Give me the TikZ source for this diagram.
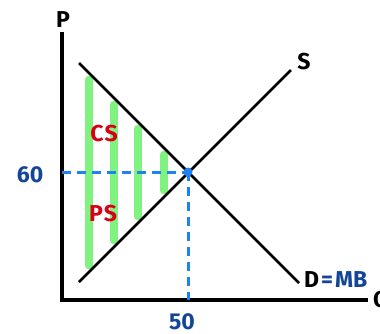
\documentclass[tikz,border=0pt]{standalone}
\usepackage{fontspec}
\setmainfont{Fira Sans}
\definecolor{barg}{RGB}{128,242,128}
\definecolor{dashblue}{RGB}{30,130,240}
\definecolor{txtblue}{RGB}{20,70,150}
\definecolor{txtred}{RGB}{215,0,20}
\begin{document}
\begin{tikzpicture}[x=1pt,y=-1pt,
  axis/.style={line width=3.2pt},
  curve/.style={line width=2.8pt},
  guide/.style={dashblue,line width=3pt,dash pattern=on 9pt off 6pt},
  bar/.style={barg,line width=7.5pt,line cap=round},
  lbl/.style={font=\fontsize{23}{25}\selectfont\bfseries,inner sep=0pt},
  num/.style={lbl,txtblue}]
\useasboundingbox (0,0) rectangle (380,333);
% bars
\foreach \x in {89,114,138,164}{
  \draw[bar] (\x,{63+(\x-79)+6.5}) -- (\x,{282-(\x-79)-6.5});
}
% axes
\coordinate (O) at (62,300);
\coordinate (Ptop) at (62,32);
\coordinate (Qend) at (368,300);
\draw[axis] (Ptop) -- (O) -- (Qend);
% guides
\coordinate (E) at (188,172);
\coordinate (Ey) at (62,172);
\coordinate (Ex) at (188,300);
\draw[guide] (Ey) -- (E);
\draw[guide] (E) -- (Ex);
% curves
\coordinate (D1) at (79,63);
\coordinate (D2) at (299,283);
\coordinate (S1) at (79,282);
\coordinate (S2) at (291,70);
\draw[curve] (D1) -- (D2);
\draw[curve] (S1) -- (S2);
\fill[dashblue] (E) circle (4.5pt);
% labels
\node[lbl] (Plbl) at (63,20) {P};
\node[lbl] (Qlbl) at (381,301) {Q};
\node[lbl] (Slbl) at (304,62) {S};
\node[lbl,anchor=west] (Dlbl) at (304,280) {D\kern2pt{\color{txtblue}=\kern2pt MB}};
\node[num] (p60) at (30,175) {60};
\node[num] (q50) at (182,322) {50};
\node[lbl,txtred] (CS) at (104,134) {C\kern1pt S};
\node[lbl,txtred] (PS) at (103,214) {P\kern1pt S};
\end{tikzpicture}
\end{document}
